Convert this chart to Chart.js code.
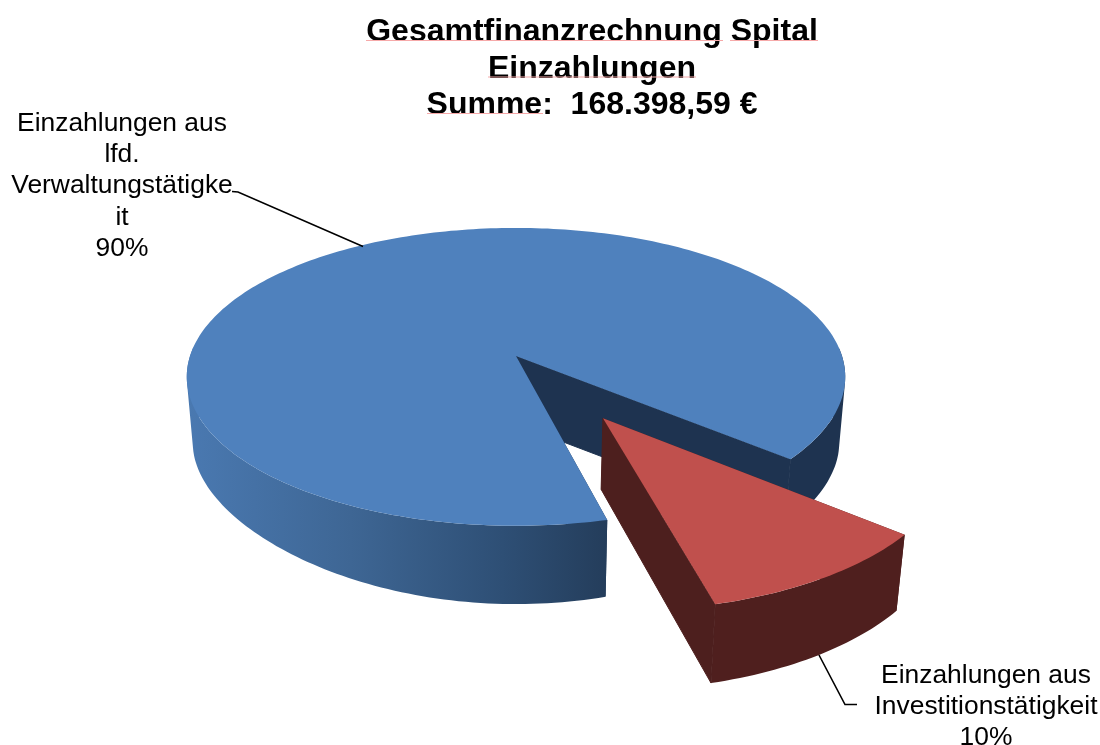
<!DOCTYPE html>
<html>
<head>
<meta charset="utf-8">
<style>html,body{margin:0;padding:0;background:#fff}canvas{display:block}</style>
<script src="https://cdn.jsdelivr.net/npm/chart.js@4/dist/chart.umd.js"></script>
</head>
<body>
<canvas id="c" width="1100" height="745"></canvas>
<script>
const titleLines = ['Gesamtfinanzrechnung Spital', 'Einzahlungen', 'Summe:  168.398,59 €'];
const categories = ['Einzahlungen aus lfd. Verwaltungstätigkeit', 'Einzahlungen aus Investitionstätigkeit'];
const shares = [90, 10];
const labelLinesA = ['Einzahlungen aus', 'lfd.', 'Verwaltungstätigke', 'it', '90%'];
const labelLinesB = ['Einzahlungen aus', 'Investitionstätigkeit', '10%'];

const FONT = '"Liberation Sans", Arial, sans-serif';
const CX = 516, CY = 356, A = 326, B = 146, K = 0.14;
const EXPLODE = 0.475;

function projTop(u, v) {
  const w = 1 - K * v;
  return [CX + A * u / w, CY + B * v / w];
}
// bottom face of the un-exploded slice
function bottomBlue(u, v) {
  return [CX + 320 * u / (1 - K * v), 424 + 132 * v / (1 - 0.267 * v)];
}
// bottom face of the exploded slice
function bottomRed(u, v) {
  const p = projTop(u, v);
  return [p[0] - (p[0] - CX) * 0.021, p[1] + 71 + (p[1] - 417) * 0.042];
}
function tracePoly(ctx, pts) {
  pts.forEach((p, i) => i ? ctx.lineTo(p[0], p[1]) : ctx.moveTo(p[0], p[1]));
  ctx.closePath();
}
function fillPoly(ctx, pts, fill, seam) {
  ctx.beginPath();
  tracePoly(ctx, pts);
  ctx.fillStyle = fill;
  ctx.fill();
  if (seam) {
    ctx.strokeStyle = fill;
    ctx.lineWidth = 1;
    ctx.stroke();
  }
}
function signedArea(q) {
  let s = 0;
  q.forEach((p, i) => {
    const n = q[(i + 1) % q.length];
    s += p[0] * n[1] - n[0] * p[1];
  });
  return s;
}
function drawSlice(ctx, arc, ou, ov, bottomFn, topColor, sideFill, faceColor) {
  const a0 = arc.startAngle, a1 = arc.endAngle;
  const n = Math.ceil((a1 - a0) / 0.02);
  const r = [], rb = [], vs = [];
  for (let i = 0; i <= n; i++) {
    const a = a0 + (a1 - a0) * i / n;
    const u = ou + Math.cos(a), v = ov + Math.sin(a);
    r.push(projTop(u, v));
    rb.push(bottomFn(u, v));
    vs.push(Math.sin(a));
  }
  const apex = projTop(ou, ov), apexB = bottomFn(ou, ov);
  fillPoly(ctx, [apex, r[0], rb[0], apexB], faceColor);
  ctx.beginPath();
  for (let i = 0; i < n; i++) {
    if (vs[i] < -0.05 && vs[i + 1] < -0.05) continue;
    const q = [r[i], r[i + 1], rb[i + 1], rb[i]];
    tracePoly(ctx, signedArea(q) < 0 ? q.reverse() : q);
  }
  ctx.fillStyle = sideFill;
  ctx.fill('nonzero');
  fillPoly(ctx, [r[n], rb[n], apexB, apex], faceColor, true);
  fillPoly(ctx, [apex].concat(r), topColor);
}

const pie3d = {
  id: 'pie3d',
  beforeDatasetDraw(chart) {
    const ctx = chart.ctx, arcs = chart.getDatasetMeta(0).data;
    const colors = chart.data.datasets[0].backgroundColor;
    ctx.save();
    const g = ctx.createLinearGradient(186, 0, 845, 0);
    g.addColorStop(0, '#4a79b1');
    g.addColorStop(0.25, '#3e6694');
    g.addColorStop(0.48, '#2e4f75');
    g.addColorStop(0.64, '#243d5b');
    g.addColorStop(0.7, '#1e3350');
    drawSlice(ctx, arcs[0], 0, 0, bottomBlue, colors[0], g, '#1e3350');
    const mid = (arcs[1].startAngle + arcs[1].endAngle) / 2;
    drawSlice(ctx, arcs[1], EXPLODE * Math.cos(mid), EXPLODE * Math.sin(mid), bottomRed, colors[1], '#4f1f1e', '#4d1f1e');
    ctx.restore();
    return false;
  },
  afterDraw(chart) {
    const ctx = chart.ctx;
    ctx.save();
    ctx.strokeStyle = '#000';
    ctx.lineWidth = 1.6;
    ctx.beginPath();
    ctx.moveTo(232, 191.5); ctx.lineTo(238, 192); ctx.lineTo(363, 246.5);
    ctx.moveTo(819, 655); ctx.lineTo(845, 704.5); ctx.lineTo(857, 704.5);
    ctx.stroke();
    ctx.strokeStyle = '#f6a9a9';
    ctx.lineWidth = 1.2;
    [[366, 723, 40.5], [730, 818, 40.5], [488, 696, 77], [427, 543, 113.5]].forEach(s => {
      ctx.beginPath(); ctx.moveTo(s[0], s[2]); ctx.lineTo(s[1], s[2]); ctx.stroke();
    });
    ctx.fillStyle = '#000';
    ctx.font = '26.4px ' + FONT;
    ctx.textAlign = 'center';
    ctx.textBaseline = 'alphabetic';
    labelLinesA.forEach((t, i) => ctx.fillText(t, 122, 131 + i * 31.2));
    labelLinesB.forEach((t, i) => ctx.fillText(t, 986, 683 + i * 31));
    ctx.restore();
  }
};

new Chart(document.getElementById('c'), {
  type: 'pie',
  data: {
    labels: categories,
    datasets: [{ data: shares, backgroundColor: ['#4f81bd', '#c0504d'], borderWidth: 0 }]
  },
  options: {
    responsive: false,
    animation: false,
    rotation: 166,
    layout: { padding: { left: 84 } },
    plugins: {
      legend: { display: false },
      tooltip: { enabled: false },
      title: {
        display: true,
        fullSize: false,
        text: titleLines,
        color: '#000',
        font: { family: FONT, size: 32, weight: 'bold', lineHeight: 1.14 },
        padding: { top: 14, bottom: 0 }
      }
    }
  },
  plugins: [pie3d]
});
</script>
</body>
</html>
